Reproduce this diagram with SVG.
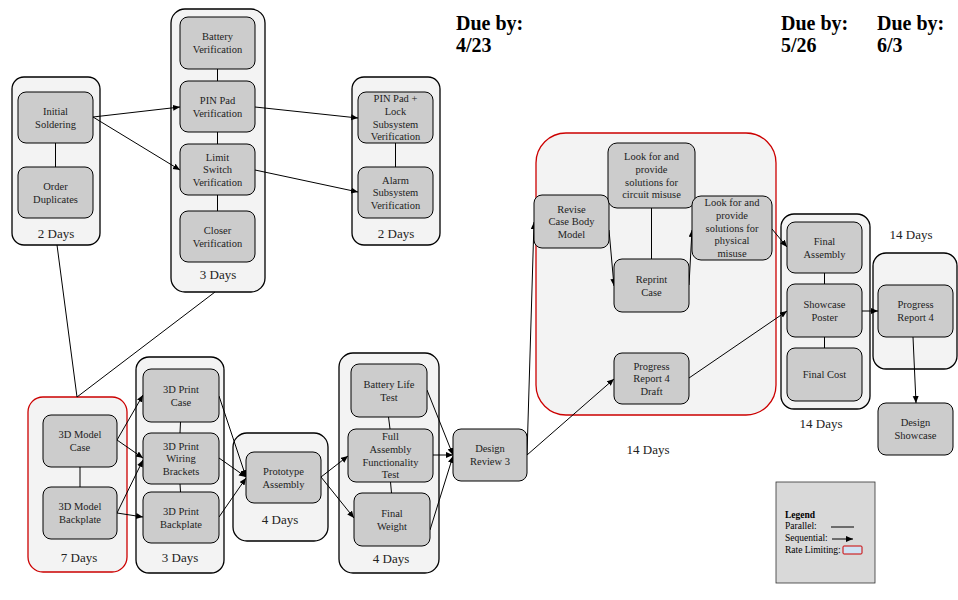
<svg xmlns="http://www.w3.org/2000/svg" width="958" height="600" viewBox="0 0 958 600">
<style>
.c{fill:#f3f3f3;stroke:#000;stroke-width:1.3}
.r{fill:#f3f3f3;stroke:#cc0000;stroke-width:1.3}
.n{fill:#cccccc;stroke:#000;stroke-width:1}
.t{font-family:"Liberation Serif","Times New Roman",serif;font-size:10.5px;fill:#222;text-anchor:middle}
.d{font-family:"Liberation Serif","Times New Roman",serif;font-size:13px;fill:#222;text-anchor:middle}
.b{font-family:"Liberation Serif","Times New Roman",serif;font-size:20px;font-weight:bold;fill:#000}
.l{font-family:"Liberation Serif","Times New Roman",serif;font-size:9.5px;fill:#000}
.p{stroke:#000;stroke-width:1;fill:none}
.a{stroke:#000;stroke-width:1;fill:none;marker-end:url(#ah)}
</style>
<defs>
<marker id="ah" markerUnits="userSpaceOnUse" markerWidth="8" markerHeight="8" refX="7" refY="3" orient="auto">
<path d="M0,0 L7,3 L0,6 Z" fill="#000"/>
</marker>
</defs>
<rect width="958" height="600" fill="#fff"/>

<g id="containers">
<rect id="grp-2days-a" class="c" x="12" y="77" width="88" height="168" rx="12"/>
<rect id="grp-3days-a" class="c" x="171" y="9" width="94" height="283" rx="14"/>
<rect id="grp-2days-b" class="c" x="352" y="77" width="88" height="168" rx="12"/>
<rect id="grp-14days-a" class="r" x="536" y="133" width="240" height="282" rx="30"/>
<rect id="grp-14days-b" class="c" x="781" y="214" width="89" height="195" rx="13"/>
<rect id="grp-14days-c" class="c" x="873" y="253" width="84" height="116" rx="13"/>
<rect id="grp-7days" class="r" x="28" y="397" width="99" height="175" rx="15"/>
<rect id="grp-3days-b" class="c" x="136" y="357" width="88" height="216" rx="13"/>
<rect id="grp-4days-a" class="c" x="233" y="433" width="95" height="108" rx="14"/>
<rect id="grp-4days-b" class="c" x="339" y="353" width="100" height="220" rx="14"/>
<text class="d" x="56" y="238">2 Days</text>
<text class="d" x="218" y="279">3 Days</text>
<text class="d" x="396" y="238">2 Days</text>
<text class="d" x="648" y="454">14 Days</text>
<text class="d" x="821" y="428">14 Days</text>
<text class="d" x="911" y="239">14 Days</text>
<text class="d" x="79" y="562">7 Days</text>
<text class="d" x="180" y="562">3 Days</text>
<text class="d" x="280" y="524">4 Days</text>
<text class="d" x="391" y="563">4 Days</text>
</g>

<g id="connectors">
<line class="p" x1="55.5" y1="143" x2="55.5" y2="167"/>
<line class="p" x1="217.5" y1="69" x2="217.5" y2="81"/>
<line class="p" x1="217.5" y1="132" x2="217.5" y2="144"/>
<line class="p" x1="217.5" y1="195" x2="217.5" y2="211"/>
<line class="p" x1="395.5" y1="143" x2="395.5" y2="167"/>
<line class="p" x1="57" y1="245" x2="77" y2="397"/>
<line class="p" x1="215" y1="292" x2="77" y2="397"/>
<line class="p" x1="651.5" y1="208" x2="651.5" y2="259"/>
<line class="p" x1="824.5" y1="273" x2="824.5" y2="284"/>
<line class="p" x1="824.5" y1="337" x2="824.5" y2="348"/>
<line class="p" x1="80" y1="467" x2="80" y2="487"/>
<line class="p" x1="180.5" y1="422" x2="180" y2="433"/>
<line class="p" x1="180" y1="484" x2="180.5" y2="492"/>
<line class="p" x1="388.5" y1="417" x2="390" y2="429"/>
<line class="p" x1="390.5" y1="482" x2="391.5" y2="493"/>

<line class="a" x1="93" y1="117" x2="180" y2="107"/>
<line class="a" x1="93" y1="117" x2="180" y2="170"/>
<line class="a" x1="255" y1="107" x2="358" y2="118"/>
<line class="a" x1="255" y1="170" x2="358" y2="192"/>
<line class="a" x1="117" y1="440" x2="143" y2="395"/>
<line class="a" x1="117" y1="440" x2="143" y2="458"/>
<line class="a" x1="117" y1="513" x2="143" y2="460"/>
<line class="a" x1="117" y1="513" x2="143" y2="517"/>
<line class="a" x1="219" y1="396" x2="246" y2="477"/>
<line class="a" x1="219" y1="458" x2="246" y2="477"/>
<line class="a" x1="219" y1="517" x2="246" y2="478"/>
<line class="a" x1="321" y1="477" x2="348" y2="456"/>
<line class="a" x1="321" y1="477" x2="354" y2="518"/>
<line class="a" x1="427" y1="390" x2="453" y2="455"/>
<line class="a" x1="433" y1="455" x2="453" y2="455"/>
<line class="a" x1="430" y1="530" x2="453" y2="456"/>
<line class="a" x1="527" y1="455" x2="534" y2="222"/>
<line class="a" x1="527" y1="455" x2="614" y2="379"/>
<line class="a" x1="609" y1="230" x2="614" y2="286"/>
<line class="a" x1="689" y1="285" x2="692" y2="230"/>
<line class="a" x1="772" y1="229" x2="787" y2="247"/>
<line class="a" x1="689" y1="378" x2="787" y2="311"/>
<line class="a" x1="862" y1="311" x2="878" y2="311"/>
<line class="a" x1="913" y1="337" x2="916" y2="403"/>
</g>

<g id="initial-soldering"><rect class="n" x="18" y="92" width="75" height="51" rx="8"/><text class="t"><tspan x="55.5" y="115">Initial</tspan><tspan x="55.5" y="127.7">Soldering</tspan></text></g>
<g id="order-duplicates"><rect class="n" x="18" y="167" width="75" height="51" rx="8"/><text class="t"><tspan x="55.5" y="190">Order</tspan><tspan x="55.5" y="202.7">Duplicates</tspan></text></g>

<g id="battery-verification"><rect class="n" x="180" y="17" width="75" height="52" rx="8"/><text class="t"><tspan x="217.5" y="40.3">Battery</tspan><tspan x="217.5" y="53">Verification</tspan></text></g>
<g id="pin-pad-verification"><rect class="n" x="180" y="81" width="75" height="51" rx="8"/><text class="t"><tspan x="217.5" y="103.8">PIN Pad</tspan><tspan x="217.5" y="116.5">Verification</tspan></text></g>
<g id="limit-switch-verification"><rect class="n" x="180" y="144" width="75" height="51" rx="8"/><text class="t"><tspan x="217.5" y="160.5">Limit</tspan><tspan x="217.5" y="173.2">Switch</tspan><tspan x="217.5" y="185.9">Verification</tspan></text></g>
<g id="closer-verification"><rect class="n" x="180" y="211" width="75" height="51" rx="8"/><text class="t"><tspan x="217.5" y="233.8">Closer</tspan><tspan x="217.5" y="246.5">Verification</tspan></text></g>

<g id="pin-lock-verification"><rect class="n" x="358" y="92" width="75" height="51" rx="8"/><text class="t"><tspan x="395.5" y="102.2">PIN Pad +</tspan><tspan x="395.5" y="114.9">Lock</tspan><tspan x="395.5" y="127.6">Subsystem</tspan><tspan x="395.5" y="140.3">Verification</tspan></text></g>
<g id="alarm-verification"><rect class="n" x="358" y="167" width="75" height="51" rx="8"/><text class="t"><tspan x="395.5" y="183.5">Alarm</tspan><tspan x="395.5" y="196.2">Subsystem</tspan><tspan x="395.5" y="208.9">Verification</tspan></text></g>

<g id="revise-case"><rect class="n" x="534" y="195" width="75" height="53" rx="8"/><text class="t"><tspan x="571.5" y="212.5">Revise</tspan><tspan x="571.5" y="225.2">Case Body</tspan><tspan x="571.5" y="237.9">Model</tspan></text></g>
<g id="circuit-misuse"><rect class="n" x="608" y="143" width="87" height="65" rx="9"/><text class="t"><tspan x="651.5" y="160.2">Look for and</tspan><tspan x="651.5" y="172.9">provide</tspan><tspan x="651.5" y="185.6">solutions for</tspan><tspan x="651.5" y="198.3">circuit misuse</tspan></text></g>
<g id="physical-misuse"><rect class="n" x="692" y="196" width="80" height="64" rx="9"/><text class="t"><tspan x="732" y="206.3">Look for and</tspan><tspan x="732" y="219">provide</tspan><tspan x="732" y="231.7">solutions for</tspan><tspan x="732" y="244.4">physical</tspan><tspan x="732" y="257.1">misuse</tspan></text></g>
<g id="reprint-case"><rect class="n" x="614" y="259" width="75" height="53" rx="8"/><text class="t"><tspan x="651.5" y="282.8">Reprint</tspan><tspan x="651.5" y="295.5">Case</tspan></text></g>
<g id="progress-report-draft"><rect class="n" x="614" y="353" width="75" height="51" rx="8"/><text class="t"><tspan x="651.5" y="369.5">Progress</tspan><tspan x="651.5" y="382.2">Report 4</tspan><tspan x="651.5" y="394.9">Draft</tspan></text></g>

<g id="final-assembly"><rect class="n" x="787" y="222" width="75" height="51" rx="8"/><text class="t"><tspan x="824.5" y="244.8">Final</tspan><tspan x="824.5" y="257.5">Assembly</tspan></text></g>
<g id="showcase-poster"><rect class="n" x="787" y="284" width="75" height="53" rx="8"/><text class="t"><tspan x="824.5" y="307.8">Showcase</tspan><tspan x="824.5" y="320.5">Poster</tspan></text></g>
<g id="final-cost"><rect class="n" x="787" y="348" width="75" height="53" rx="8"/><text class="t" x="824.5" y="378.2">Final Cost</text></g>
<g id="progress-report-4"><rect class="n" x="878" y="285" width="75" height="52" rx="8"/><text class="t"><tspan x="915.5" y="308.3">Progress</tspan><tspan x="915.5" y="321">Report 4</tspan></text></g>
<g id="design-showcase"><rect class="n" x="878" y="403" width="75" height="52" rx="8"/><text class="t"><tspan x="915.5" y="426.3">Design</tspan><tspan x="915.5" y="439">Showcase</tspan></text></g>

<g id="model-case"><rect class="n" x="43" y="415" width="74" height="52" rx="8"/><text class="t"><tspan x="80" y="438.3">3D Model</tspan><tspan x="80" y="451">Case</tspan></text></g>
<g id="model-backplate"><rect class="n" x="43" y="487" width="74" height="52" rx="8"/><text class="t"><tspan x="80" y="510.3">3D Model</tspan><tspan x="80" y="523">Backplate</tspan></text></g>
<g id="print-case"><rect class="n" x="143" y="369" width="76" height="53" rx="8"/><text class="t"><tspan x="181" y="392.8">3D Print</tspan><tspan x="181" y="405.5">Case</tspan></text></g>
<g id="print-wiring"><rect class="n" x="143" y="433" width="76" height="51" rx="8"/><text class="t"><tspan x="181" y="449.5">3D Print</tspan><tspan x="181" y="462.2">Wiring</tspan><tspan x="181" y="474.9">Brackets</tspan></text></g>
<g id="print-backplate"><rect class="n" x="143" y="492" width="76" height="51" rx="8"/><text class="t"><tspan x="181" y="514.8">3D Print</tspan><tspan x="181" y="527.5">Backplate</tspan></text></g>
<g id="prototype-assembly"><rect class="n" x="246" y="452" width="75" height="51" rx="8"/><text class="t"><tspan x="283.5" y="474.8">Prototype</tspan><tspan x="283.5" y="487.5">Assembly</tspan></text></g>
<g id="battery-life-test"><rect class="n" x="351" y="364" width="76" height="53" rx="8"/><text class="t"><tspan x="389" y="387.8">Battery Life</tspan><tspan x="389" y="400.5">Test</tspan></text></g>
<g id="full-assembly-test"><rect class="n" x="348" y="429" width="85" height="53" rx="8"/><text class="t"><tspan x="390.5" y="440.2">Full</tspan><tspan x="390.5" y="452.9">Assembly</tspan><tspan x="390.5" y="465.6">Functionality</tspan><tspan x="390.5" y="478.3">Test</tspan></text></g>
<g id="final-weight"><rect class="n" x="354" y="493" width="76" height="53" rx="8"/><text class="t"><tspan x="392" y="516.8">Final</tspan><tspan x="392" y="529.5">Weight</tspan></text></g>
<g id="design-review-3"><rect class="n" x="453" y="429" width="74" height="52" rx="8"/><text class="t"><tspan x="490" y="452.3">Design</tspan><tspan x="490" y="465">Review 3</tspan></text></g>

<g id="due-dates">
<text class="b"><tspan x="456" y="30">Due by:</tspan><tspan x="456" y="52">4/23</tspan></text>
<text class="b"><tspan x="781" y="30">Due by:</tspan><tspan x="781" y="52">5/26</tspan></text>
<text class="b"><tspan x="877" y="30">Due by:</tspan><tspan x="877" y="52">6/3</tspan></text>
</g>

<g id="legend">
<rect x="776" y="482" width="99" height="101" fill="#d9d9d9" stroke="#333" stroke-width="0.8"/>
<text class="l" x="785" y="518" font-weight="bold">Legend</text>
<text class="l" x="785" y="529">Parallel:</text>
<text class="l" x="785" y="541">Sequential:</text>
<text class="l" x="785" y="553">Rate Limiting:</text>
<line x1="831" y1="527" x2="854" y2="527" stroke="#000" stroke-width="1"/>
<line x1="832" y1="539" x2="853" y2="539" stroke="#000" stroke-width="1" marker-end="url(#ah)"/>
<rect x="843" y="546" width="19" height="8" rx="1" fill="#cfe2f3" stroke="#cc0000" stroke-width="1"/>
</g>
</svg>
